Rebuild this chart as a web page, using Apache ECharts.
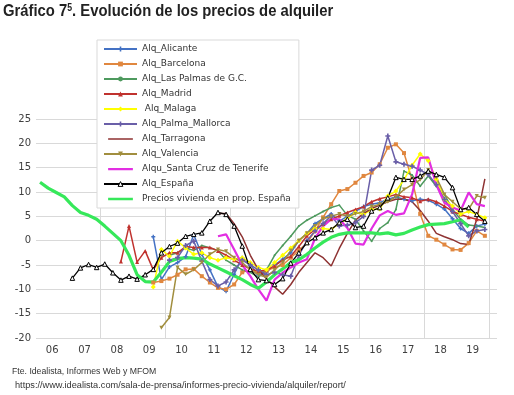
<!DOCTYPE html>
<html><head><meta charset="utf-8">
<script src="https://cdn.jsdelivr.net/npm/echarts@6/dist/echarts.min.js"></script>
<style>html,body{margin:0;padding:0;background:#fff}#c{width:514px;height:395px}</style>
</head><body><div id="c"></div>
<script>
// Quarterly data, 2006 T1 .. 2019 T4 (56 quarters), year-on-year % change
const yearLabels = ['06','07','08','09','10','11','12','13','14','15','16','17','18','19'];
const seriesNames = ['Alq_Alicante','Alq_Barcelona','Alq_Las Palmas de G.C.','Alq_Madrid',' Alq_Malaga','Alq_Palma_Mallorca','Alq_Tarragona','Alq_Valencia','Alqu_Santa Cruz de Tenerife','Alq_España','Precios vivienda en prop. España'];
function pad(n){ return new Array(n).fill(null); }
const alicante = pad(14).concat([0.8,-8.0,-5.4,-4.5,-3.3,1.2,-2.8,-6.0,-9.5,-10.4,-6.9,-3.5,-5.0,-7.0,-6.5,-5.0,-3.8,-2.5,0.0,1.5,3.5,4.5,5.5,4.0,5.0,6.0,7.0,7.5,7.8,8.5,9.0,8.5,8.2,8.5,8.3,7.5,6.5,4.5,2.5,1.5,3.0,3.4]);
const barcelona = pad(14).concat([-8.6,-8.3,-7.8,-7.0,-5.9,-5.8,-7.3,-8.6,-9.7,-10.0,-9.0,-6.5,-6.0,-6.5,-6.2,-5.5,-5.0,-3.5,-2.0,-0.5,2.0,4.8,7.5,10.2,10.6,11.9,13.3,14.0,15.7,19.1,19.8,18.0,12.5,5.5,1.0,0.2,-0.8,-1.8,-1.9,-0.5,2.0,1.0]);
const lasPalmas = pad(16).concat([-3.0,-2.5,-1.5,-2.0,-1.0,-1.5,-2.0,-4.0,-5.0,-6.0,-6.5,-7.5,-6.0,-3.0,-1.0,0.9,3.0,4.2,5.1,6.0,6.8,7.3,5.2,4.4,2.0,-0.1,2.5,3.7,6.4,14.3,13.5,11.2,13.3,11.2,9.5,6.4,4.4,3.2,3.0,2.7]);
const madrid = pad(10).concat([-4.3,3.0,-4.4,-2.1,-6.0,-3.5,-2.5,-2.5,-1.2,-1.4,-1.4,-1.4,-2.1,-3.0,-4.0,-5.0,-5.8,-6.3,-6.0,-5.2,-4.0,-3.2,-1.2,1.0,2.3,3.4,4.4,5.1,5.8,6.4,7.0,8.0,8.6,9.0,9.5,9.0,8.8,8.1,8.5,8.0,7.1,6.0,5.4,4.8,4.4,4.0]);
const malaga = pad(14).concat([-9.5,-1.8,-3.2,-0.1,-1.5,-2.8,-2.5,-3.5,-4.0,-3.5,-3.8,-3.5,-4.5,-5.5,-6.0,-4.5,-3.0,-1.5,0.0,1.5,2.5,2.5,2.3,3.5,4.5,5.8,5.4,6.4,6.5,9.2,10.2,12.5,15.5,17.8,16.4,12.6,8.5,7.1,5.5,6.0,5.4,4.7]);
const palma = pad(16).concat([-4.0,-3.5,-1.0,-0.1,-4.2,-8.0,-9.3,-8.5,-6.0,-4.0,-5.0,-6.0,-7.0,-6.5,-7.0,-7.3,-3.0,0.0,2.0,3.5,5.1,3.0,3.2,3.7,5.0,14.5,15.5,21.5,16.2,15.7,15.3,14.5,13.6,11.5,8.5,6.0,3.5,1.0,2.0,2.3]);
const tarragona = pad(22).concat([5.6,5.6,3.5,0.8,-3.0,-6.0,-7.8,-9.5,-11.0,-9.0,-6.5,-4.5,-2.5,-3.5,-5.2,-1.6,1.5,4.2,5.6,6.6,7.3,8.0,8.5,8.5,8.0,6.2,4.0,1.5,0.8,0.2,-0.6,-0.8,4.4,12.7]);
const valencia = pad(15).concat([-17.9,-15.8,-5.5,-6.9,-6.0,-4.5,-2.8,-1.8,-2.2,-3.5,-4.5,-6.0,-7.0,-7.5,-6.0,-4.5,-2.0,0.0,1.5,3.0,4.5,5.0,5.5,5.0,5.5,6.0,7.0,7.5,8.0,9.0,10.5,11.5,12.5,14.5,13.0,9.5,8.0,6.5,6.5,9.2,8.8]);
const santaCruz = pad(22).concat([0.9,1.3,-1.8,-5.0,-7.3,-10.0,-12.3,-8.0,-6.6,-5.5,-4.5,-3.8,0.5,3.0,4.4,4.4,2.6,-0.6,-0.8,2.5,5.2,6.1,5.3,5.6,9.5,17.0,17.1,11.5,7.8,6.8,6.2,9.9,7.5,7.1]);
const espana = pad(4).concat([-7.7,-5.6,-4.9,-5.5,-4.8,-6.6,-8.1,-7.3,-7.9,-7.0,-5.9,-2.5,-1.2,-0.5,0.9,1.3,1.6,4.0,5.8,5.4,3.0,-1.1,-5.9,-8.0,-8.2,-9.0,-7.8,-4.6,-2.5,-0.4,0.6,1.6,2.3,3.7,4.4,2.7,3.0,6.1,6.8,8.8,13.0,12.6,12.6,13.3,14.3,13.6,13.0,10.9,6.4,6.8,5.4,4.0]);
const preciosVivienda = [12.0,10.8,9.9,9.0,7.2,5.8,5.2,4.4,3.0,1.5,0.0,-3.0,-7.0,-8.4,-8.5,-6.5,-4.3,-3.7,-3.5,-3.6,-3.8,-4.8,-5.6,-6.4,-7.2,-8.0,-9.0,-9.8,-8.5,-7.0,-5.8,-4.5,-3.9,-2.8,-1.5,-0.3,0.7,1.3,1.6,1.6,1.6,1.6,1.4,1.6,1.2,1.5,2.2,2.8,3.3,3.4,3.5,3.9,4.3,2.8,null,null];

function toXY(arr){ return arr.map((v,k)=>[k+0.5, v]); }
const plusPath = 'path://M1,0h1v1h1v1h-1v1h-1v-1h-1v-1h1z';
function barIcon(t){ // legend line icon of thickness t in a 33x8 box
  const y0 = (4 - t/2).toFixed(2);
  return 'path://M0,0h0.01v0.01h-0.01z M32.99,7.99h0.01v0.01h-0.01z M0,' + y0 + 'h33v' + t + 'h-33z';
}
const styles = [
  {c:'#4472C4', sym:plusPath, s:4, w:1.5},
  {c:'#E0873F', sym:'rect', s:4, w:1.5},
  {c:'#4E9A5E', sym:'circle', s:2, w:1.5},
  {c:'#C0322E', sym:'triangle', s:4, w:1.5},
  {c:'#FFFF00', sym:'diamond', s:5, w:1.5},
  {c:'#6A5FA8', sym:plusPath, s:5, w:1.5},
  {c:'#8E3232', sym:'none', s:0, w:1.5, legendW:2},
  {c:'#A18E3E', sym:'triangle', s:4, w:1.5, rot:180},
  {c:'#E22EE2', sym:'none', s:0, w:2.2, legendW:3},
  {c:'#000000', sym:'triangle', s:4.5, w:1.3, hollow:true},
  {c:'#36E85A', sym:'none', s:0, w:3.2, legendW:3.5}
];
const dataArrays = [alicante,barcelona,lasPalmas,madrid,malaga,palma,tarragona,valencia,santaCruz,espana,preciosVivienda];
const series = dataArrays.map((arr,i)=>({
  name: seriesNames[i], type:'line', data: toXY(arr),
  symbol: styles[i].sym, symbolSize: styles[i].s, symbolRotate: styles[i].rot||0,
  showSymbol: styles[i].sym !== 'none',
  lineStyle:{color:styles[i].c, width:styles[i].w},
  itemStyle:{color: styles[i].hollow ? '#fff' : styles[i].c, borderColor: styles[i].c, borderWidth: styles[i].hollow?1:0},
  color: styles[i].c,
  connectNulls:false, animation:false, z: 2
}));
const legendData = seriesNames.map((n,i)=> {
  if (styles[i].sym==='none') return {name:n, icon: barIcon(styles[i].legendW), itemStyle:{color:styles[i].c}};
  if (styles[i].hollow) return {name:n, itemStyle:{color:'#fff', borderColor:'#000', borderWidth:1}};
  return {name:n};
});
const yearCenters = yearLabels.map((y,i)=>i*4+2);
const gridColors = ['rgba(0,0,0,0)','#d9d9d9','#d9d9d9','#d9d9d9','#d9d9d9','#d9d9d9','#d9d9d9','#d9d9d9'];
const titleFont = 'Liberation Sans';
const chart = echarts.init(document.getElementById('c'), null, {renderer:'canvas'});
chart.setOption({
  backgroundColor:'#fff',
  animation:false,
  grid:{left:36, right:17, top:119, bottom:57, containLabel:false},
  legend:{
    orient:'vertical', left:97, top:40,
    padding:[3,8,3,6], itemGap:3, itemWidth:33, itemHeight:6,
    backgroundColor:'#fff', borderColor:'#d9d9d9', borderWidth:1, borderRadius:0,
    textStyle:{fontFamily:'DejaVu Sans', fontSize:9, color:'#333', lineHeight:12},
    data: legendData
  },
  xAxis:{
    type:'value', min:0, max:57, interval:8,
    axisLine:{show:false}, axisTick:{show:false},
    splitLine:{show:true, lineStyle:{color:gridColors, width:1}},
    axisLabel:{
      customValues: yearCenters,
      formatter: v => yearLabels[Math.round((v-2)/4)] || '',
      fontFamily:'DejaVu Sans', fontSize:10, color:'#404040', margin:7
    }
  },
  yAxis:{
    type:'value', min:-20, max:25, interval:5,
    axisLine:{show:false}, axisTick:{show:false},
    splitLine:{lineStyle:{color:'#d9d9d9', width:1}},
    axisLabel:{fontFamily:'DejaVu Sans', fontSize:10, color:'#404040', margin:5}
  },
  graphic:[
    {type:'text', left:3, top:3, scaleX:0.872, originX:0,
      style:{
        text:'{a|Gráfico 7}{s|5}{a|. Evolución de los precios de alquiler}',
        rich:{
          a:{fontFamily:titleFont, fontWeight:'bold', fontSize:17, fill:'#222', color:'#222'},
          s:{fontFamily:titleFont, fontWeight:'bold', fontSize:10, fill:'#222', color:'#222', verticalAlign:'top', padding:[0,0,7,0]}
        }
      }},
    {type:'text', left:12, top:367, style:{text:'Fte. Idealista, Informes Web y MFOM', font:'8.7px "Liberation Sans"', fill:'#333'}},
    {type:'text', left:15, top:381, style:{text:'https://www.idealista.com/sala-de-prensa/informes-precio-vivienda/alquiler/report/', font:'9.2px "Liberation Sans"', fill:'#333'}}
  ],
  series: series
});
</script></body></html>
